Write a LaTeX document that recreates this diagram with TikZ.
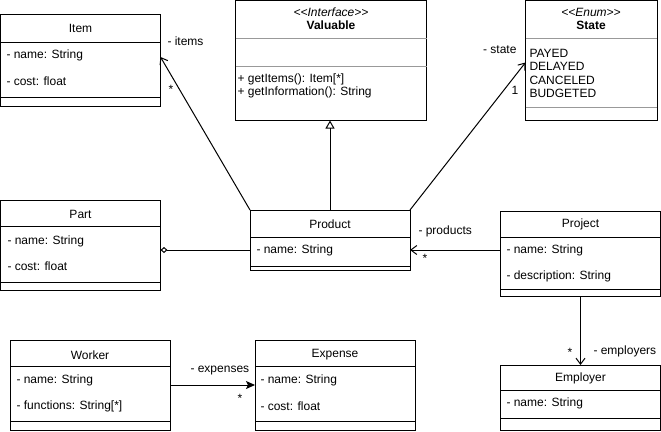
\documentclass[tikz,border=0pt]{standalone}
\usepackage{fontspec}
\setmainfont{Liberation Sans}
\usetikzlibrary{arrows.meta}

\begin{document}
\begin{tikzpicture}[x=1pt,y=-1pt,
  font=\fontsize{12}{14}\selectfont,
  line width=1pt,
  umlbox/.style={draw,anchor=north west,inner sep=0,outer sep=0,minimum width=160},
  title/.style={inner sep=0},
  attr/.style={anchor=west,inner sep=0},
  stereo/.style={inner sep=0,font=\fontsize{12}{14}\selectfont\itshape},
  lbl/.style={inner sep=0},
  lightsep/.style={draw=black!40},
  assoc/.style={-{Straight Barb[length=6pt,width=9pt]}},
  inherit/.style={-{Triangle[open,length=8pt,width=9pt]}},
  aggr/.style={-{Diamond[open,length=7pt,width=6pt]}},
  navfill/.style={-{Stealth[length=9pt,width=8pt,inset=2pt]}}]
\useasboundingbox (0,0) rectangle (661,431);

% Item
\node[umlbox,minimum height=92] (item) at (0.5,14) {};
\draw ([yshift=-28pt]item.north west) -- ([yshift=-28pt]item.north east);
\draw ([yshift=-83pt]item.north west) -- ([yshift=-83pt]item.north east);
\node[title] (item-title) at (80.5,28) {Item};
\node[attr] (item-name) at (6,55) {- name: String};
\node[attr] (item-cost) at (6,81) {- cost: float};

% Valuable
\node[umlbox,minimum width=191,minimum height=120] (valuable) at (235.5,0.5) {};
\draw[lightsep] ([yshift=-37.5pt]valuable.north west) -- ([yshift=-37.5pt]valuable.north east);
\draw[lightsep] ([yshift=-65.5pt]valuable.north west) -- ([yshift=-65.5pt]valuable.north east);
\node[stereo] (valuable-stereo) at (331,12) {<\kern0pt<Interface>\kern0pt>};
\node[title,font=\fontsize{12}{14}\selectfont\bfseries] (valuable-title) at (331,25) {Valuable};
\node[attr] (valuable-items) at (237,79) {+ getItems(): Item[*]};
\node[attr] (valuable-info) at (237,92) {+ getInformation(): String};

% State
\node[umlbox,minimum width=131.5,minimum height=120] (state) at (525.5,0.5) {};
\draw[lightsep] ([yshift=-37.5pt]state.north west) -- ([yshift=-37.5pt]state.north east);
\draw[lightsep] ([yshift=-106.5pt]state.north west) -- ([yshift=-106.5pt]state.north east);
\node[stereo] (state-stereo) at (591,12) {<\kern0pt<Enum>\kern0pt>};
\node[title,font=\fontsize{12}{14}\selectfont\bfseries] (state-title) at (591,25) {State};
\node[attr] (state-payed) at (529,53) {PAYED};
\node[attr] (state-delayed) at (529,66) {DELAYED};
\node[attr] (state-canceled) at (529,80) {CANCELED};
\node[attr] (state-budgeted) at (529,93) {BUDGETED};

% Part
\node[umlbox,minimum height=90] (part) at (0.5,200) {};
\draw ([yshift=-26pt]part.north west) -- ([yshift=-26pt]part.north east);
\draw ([yshift=-82pt]part.north west) -- ([yshift=-82pt]part.north east);
\node[title] (part-title) at (80.5,214) {Part};
\node[attr] (part-name) at (7,241) {- name: String};
\node[attr] (part-cost) at (7,266) {- cost: float};

% Product
\node[umlbox,minimum height=60] (product) at (250,210) {};
\draw ([yshift=-27pt]product.north west) -- ([yshift=-27pt]product.north east);
\draw ([yshift=-56pt]product.north west) -- ([yshift=-56pt]product.north east);
\node[title] (product-title) at (330,224) {Product};
\node[attr] (product-name) at (256,250) {- name: String};

% Project
\node[umlbox,minimum height=85] (project) at (500.5,211) {};
\draw ([yshift=-26pt]project.north west) -- ([yshift=-26pt]project.north east);
\draw ([yshift=-78pt]project.north west) -- ([yshift=-78pt]project.north east);
\node[title] (project-title) at (580.5,224) {Project};
\node[attr] (project-name) at (506,250) {- name: String};
\node[attr] (project-desc) at (506,276) {- description: String};

% Worker
\node[umlbox,minimum height=90] (worker) at (10,340) {};
\draw ([yshift=-26pt]worker.north west) -- ([yshift=-26pt]worker.north east);
\draw ([yshift=-81pt]worker.north west) -- ([yshift=-81pt]worker.north east);
\node[title] (worker-title) at (90,355) {Worker};
\node[attr] (worker-name) at (16,380) {- name: String};
\node[attr] (worker-functions) at (16,406) {- functions: String[*]};

% Expense
\node[umlbox,minimum height=90] (expense) at (255,340) {};
\draw ([yshift=-26pt]expense.north west) -- ([yshift=-26pt]expense.north east);
\draw ([yshift=-81pt]expense.north west) -- ([yshift=-81pt]expense.north east);
\node[title] (expense-title) at (335,355) {Expense};
\node[attr] (expense-name) at (260,380) {- name: String};
\node[attr] (expense-cost) at (260,406) {- cost: float};

% Employer
\node[umlbox,minimum height=65] (employer) at (500.5,365) {};
\draw ([yshift=-25pt]employer.north west) -- ([yshift=-25pt]employer.north east);
\draw ([yshift=-53pt]employer.north west) -- ([yshift=-53pt]employer.north east);
\node[title] (employer-title) at (580.5,378) {Employer};
\node[attr] (employer-name) at (506,403) {- name: String};

% Relations
\draw[assoc] (product.north west) -- ([yshift=3pt]item.east);
\draw[inherit] (product.north) -- (product.north |- valuable.south);
\draw[assoc] (product.north east) -- ([yshift=-2pt]state.west);
\draw[aggr] (product.west |- product-name) -- (part.east |- product-name);
\draw[assoc] (project.west |- product-name) -- (product.east |- product-name);
\draw[assoc] (project.south) -- (employer.north);
\draw[navfill] (worker.east) -- (expense.west);

% Role names and multiplicities
\node[lbl,anchor=west] (items-role) at (167,41) {- items};
\node[lbl] (items-mult) at (171,89) {*};
\node[lbl,anchor=east] (state-role) at (517,50) {- state};
\node[lbl] (state-mult) at (515,90) {1};
\node[lbl,anchor=west] (products-role) at (418,231) {- products};
\node[lbl] (products-mult) at (425,258) {*};
\node[lbl] (employers-mult) at (570,352) {*};
\node[lbl,anchor=west] (employers-role) at (593,351) {- employers};
\node[lbl,anchor=west] (expenses-role) at (190,371) {- expenses};
\node[lbl] (expenses-mult) at (240,398) {*};
\end{tikzpicture}
\end{document}
